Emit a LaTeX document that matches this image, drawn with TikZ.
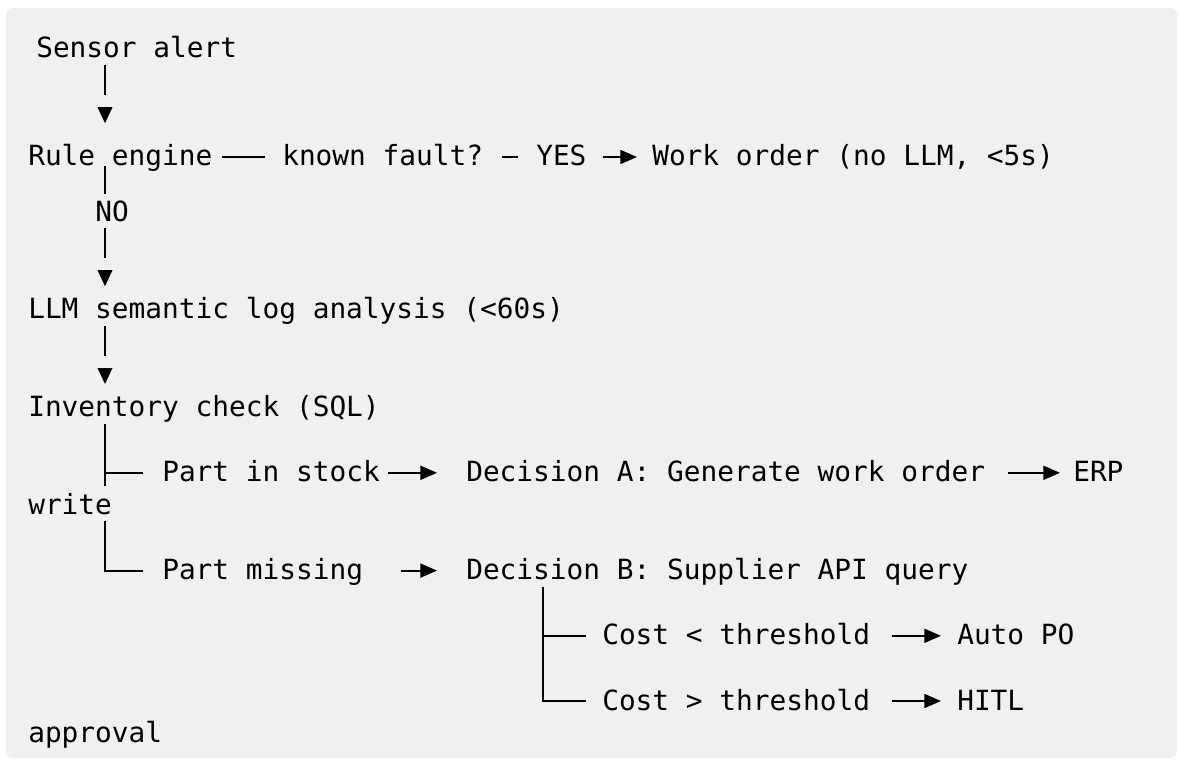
\documentclass[tikz,border=0pt]{standalone}
\usepackage{fontspec}
\setmonofont{DejaVu Sans Mono}
\usetikzlibrary{arrows.meta,calc}
\definecolor{bg}{HTML}{F0F0F0}
\begin{document}
\begin{tikzpicture}[x=0.75pt,y=-0.75pt,
  txt/.style={anchor=base west,inner sep=0pt,font=\ttfamily\fontsize{20.85}{24}\selectfont,text=black},
  wire/.style={line width=1.4pt,draw=black},
  arr/.style={wire,-{Triangle[length=12.5pt,width=10.5pt]}},
  tridown/.pic={\fill[black] (-7.5,-16) -- (7.5,-16) -- (0,0) -- cycle;}
  ]
\useasboundingbox (0,0) rectangle (1179,767);
\fill[bg,rounded corners=5pt] (6,8) rectangle (1177,758);

% text nodes
\node[txt] (sensor) at (36,58) {Sensor alert};
\node[txt] (rule) at (28,166) {Rule engine};
\node[txt] (known) at (282,166) {known fault?};
\node[txt] (yes) at (536,166) {YES};
\node[txt] (wo) at (652,166) {Work order (no LLM, <5s)};
\node[txt] (no) at (95,221) {NO};
\node[txt] (llm) at (28,318.8) {LLM semantic log analysis (<60s)};
\node[txt] (inv) at (28,416.6) {Inventory check (SQL)};
\node[txt] (stock) at (162,481.8) {Part in stock};
\node[txt] (deca) at (466,481.8) {Decision A: Generate work order};
\node[txt] (erp) at (1073,481.8) {ERP};
\node[txt] (write) at (28,514.4) {write};
\node[txt] (missing) at (162,579.6) {Part missing};
\node[txt] (decb) at (466,579.6) {Decision B: Supplier API query};
\node[txt] (costlt) at (602,644.8) {Cost < threshold};
\node[txt] (autopo) at (957,644.8) {Auto PO};
\node[txt] (costgt) at (602,710) {Cost > threshold};
\node[txt] (hitl) at (957,710) {HITL};
\node[txt] (approval) at (28,742.6) {approval};

% main column
\coordinate (s1) at (105,65);   \coordinate (s2) at (105,95);
\coordinate (r1) at (105,166); \coordinate (r2) at (105,194);
\coordinate (n1) at (105,228);  \coordinate (n2) at (105,258);
\coordinate (l1) at (105,325.8); \coordinate (l2) at (105,355.8);
\coordinate (i1) at (105,423.6); \coordinate (i2) at (105,486.2);
\coordinate (ib) at (105,472.8); \coordinate (ibe) at (143,472.8);
\coordinate (w1) at (105,521.4); \coordinate (wc) at (105,570.6); \coordinate (wce) at (143,570.6);

\draw[wire] (s1) -- (s2);
\pic at (105,123.2) {tridown};
\draw[wire] (r1) -- (r2);
\draw[wire] (n1) -- (n2);
\pic at (105,286.2) {tridown};
\draw[wire] (l1) -- (l2);
\pic at (105,384) {tridown};
\draw[wire] (i1) -- (i2);
\draw[wire] (ib) -- (ibe);
\draw[wire] (w1) -- (wc) -- (wce);

% rule engine row
\coordinate (ra) at (222,157); \coordinate (rb) at (265,157);
\coordinate (ka) at (502,157); \coordinate (kb) at (518,157);
\coordinate (ya) at (603,157); \coordinate (yb) at (637,157);
\draw[wire] (ra) -- (rb);
\draw[wire] (ka) -- (kb);
\draw[arr] (ya) -- (yb);

% branch rows
\draw[arr] (388,472.8) -- (437,472.8);
\draw[arr] (1008,472.8) -- (1060,472.8);
\draw[arr] (401,570.6) -- (437,570.6);

% decision B column
\coordinate (d1) at (543,586.6);
\coordinate (db) at (543,635.8); \coordinate (dbe) at (586,635.8);
\coordinate (dc) at (543,701);  \coordinate (dce) at (586,701);
\draw[wire] (d1) -- (dc) -- (dce);
\draw[wire] (db) -- (dbe);
\draw[arr] (892,635.8) -- (941,635.8);
\draw[arr] (892,701) -- (941,701);
\end{tikzpicture}
\end{document}
